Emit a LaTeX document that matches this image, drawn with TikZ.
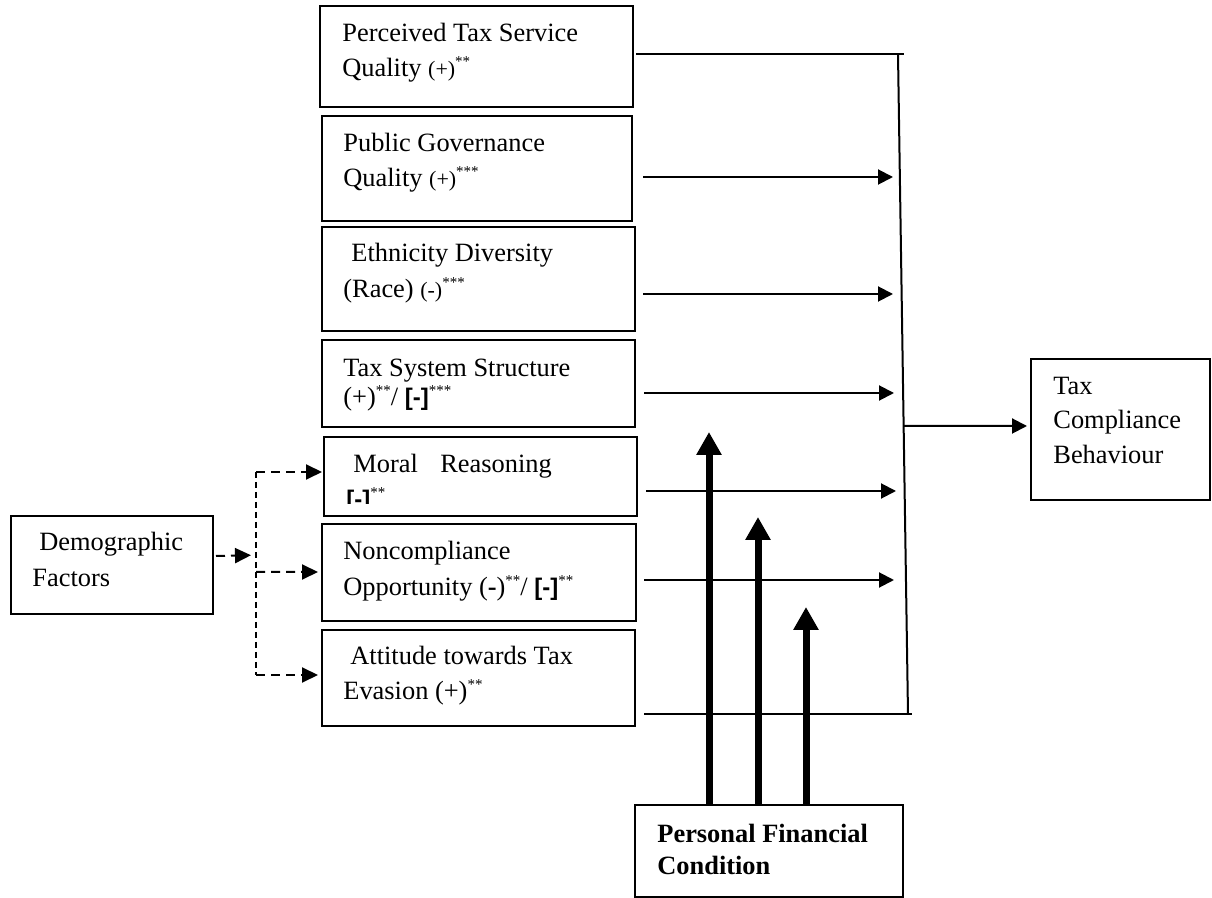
\documentclass[tikz,border=0pt]{standalone}
\usepackage{fontspec}
\setmainfont{Liberation Serif}
\setsansfont{Liberation Sans}
\usetikzlibrary{arrows.meta,calc}
% smaller sign in brackets, starred significance marks, bold sans sign
\newcommand\lesser[1]{{\fontsize{11}{13}\selectfont #1}}
\newcommand\stars[1]{\raisebox{5pt}{\fontsize{7.5}{8}\selectfont #1}}
\newcommand\bsans[1]{{\sffamily\bfseries\fontsize{12}{14}\selectfont #1}}
\begin{document}
\begin{tikzpicture}[x=0.5pt,y=-0.5pt,
  box/.style={draw, line width=1pt, inner sep=0pt, rectangle},
  txt/.style={anchor=base west, inner sep=0pt, font=\fontsize{13.2}{17.5}\selectfont},
  link/.style={line width=1pt},
  arr/.style={line width=1pt, -{Triangle[length=7.5pt,width=7.5pt]}},
  darr/.style={line width=1pt, dash pattern=on 4.5pt off 3pt, -{Triangle[length=8pt,width=7.5pt]}},
  dline/.style={line width=0.9pt, dash pattern=on 3pt off 2pt},
  fat/.style={line width=3.5pt, -{Triangle[length=11.5pt,width=12pt]}},
]
\useasboundingbox (0,0) rectangle (1212,898);

% factor boxes
\node[box, minimum width=156.5pt, minimum height=50.5pt] (b1) at (476.5,56.5) {};
\node[box, minimum width=155pt,   minimum height=52.5pt] (b2) at (477,168.5) {};
\node[box, minimum width=156.5pt, minimum height=52pt]   (b3) at (478.5,279) {};
\node[box, minimum width=156.5pt, minimum height=43.5pt] (b4) at (478.5,383.5) {};
\node[box, minimum width=156.5pt, minimum height=39.5pt] (b5) at (480.5,476.5) {};
\node[box, minimum width=157pt,   minimum height=48.5pt] (b6) at (479,572.5) {};
\node[box, minimum width=156.5pt, minimum height=48pt]   (b7) at (478.5,678) {};
\node[box, minimum width=101pt,   minimum height=49pt]   (demo) at (112,565) {};
\node[box, minimum width=89.5pt,  minimum height=70.5pt] (tcb) at (1120.5,429.5) {};
\node[box, minimum width=134pt,   minimum height=46pt]   (pfc) at (769,851) {};

% box labels
\node[txt] (t1a) at (342,42) {Perceived Tax Service};
\node[txt] (t1b) at (342,77) {Quality \lesser{(+)}\stars{**}};
\node[txt] (t2a) at (343,152) {Public Governance};
\node[txt] (t2b) at (343,187) {Quality \lesser{(+)}\stars{***}};
\node[txt] (t3a) at (351,262) {Ethnicity Diversity};
\node[txt] (t3b) at (343,298) {(Race) \lesser{(-)}\stars{***}};
\node[txt] (t4a) at (343,377) {Tax System Structure};
\node[txt] (t4b) at (343,406) {(+)\stars{**}/ \bsans{[-]}\stars{***}};
\node[txt] (t5a) at (353,473) {Moral\hspace{0.85em}Reasoning};
\begin{scope}
  \clip (330,480) rectangle (630,504);
  \node[txt] (t5b) at (346,508) {\bsans{[-]}\stars{**}};
\end{scope}
\node[txt] (t6a) at (343,560) {Noncompliance};
\node[txt] (t6b) at (343,596) {Opportunity (\textbf{-})\stars{**}/ \bsans{[-]}\stars{**}};
\node[txt] (t7a) at (350,665) {Attitude towards Tax};
\node[txt] (t7b) at (343,700) {Evasion (+)\stars{**}};
\node[txt] (tda) at (39,551) {Demographic};
\node[txt] (tdb) at (32,587) {Factors};
\node[txt] (tca) at (1053,395) {Tax};
\node[txt] (tcb2) at (1053,429) {Compliance};
\node[txt] (tcc) at (1053,464) {Behaviour};
\node[txt, font=\fontsize{13.2}{17.5}\selectfont\bfseries] (tpa) at (657,842) {Personal Financial};
\node[txt, font=\fontsize{13.2}{17.5}\selectfont\bfseries] (tpb) at (657,875) {Condition};

% collecting bus on the right
\coordinate (busT) at (898,54);
\coordinate (busB) at (908,714);
\draw[link] (busT) -- (busB);
\draw[link] ($(b1.east)+(2,-2.5)$) -- ++(268,0);
\draw[link] ($(b7.east)+(8,36)$) -- ++(268,0);
\draw[arr] ($(b2.east)+(10,8.5)$) -- ++(250,0);
\draw[arr] ($(b3.east)+(7,15)$) -- ++(250,0);
\draw[arr] ($(b4.east)+(8,9.5)$) -- ++(250,0);
\draw[arr] ($(b5.east)+(8,14.5)$) -- ++(250,0);
\draw[arr] ($(b6.east)+(7,7.5)$) -- ++(250,0);
\coordinate (busM) at ($(busT)!0.5636!(busB)$);
\draw[arr] (busM) -- ($(tcb.west)+(-3,-3.5)$);

% demographic links
\coordinate (dvT) at (256,472);
\coordinate (dvB) at (256,675);
\draw[darr] ($(demo.east)+(2,-9)$) -- ($(dvT)!0.41!(dvB)+(-5,0)$);
\draw[dline] (dvT) -- (dvB);
\draw[darr] (dvT) -- ($(b5.west)+(-1,-4.5)$);
\draw[darr] ($(dvT)!0.4926!(dvB)$) -- ($(b6.west)+(-3,-0.5)$);
\draw[darr] (dvB) -- ($(b7.west)+(-3,-3)$);

% moderating arrows from personal financial condition
\draw[fat] ($(pfc.north west)+(75,0)$) -- ++(0,-372);
\draw[fat] ($(pfc.north west)+(124,0)$) -- ++(0,-287);
\draw[fat] ($(pfc.north west)+(172,0)$) -- ++(0,-197);
\end{tikzpicture}
\end{document}
